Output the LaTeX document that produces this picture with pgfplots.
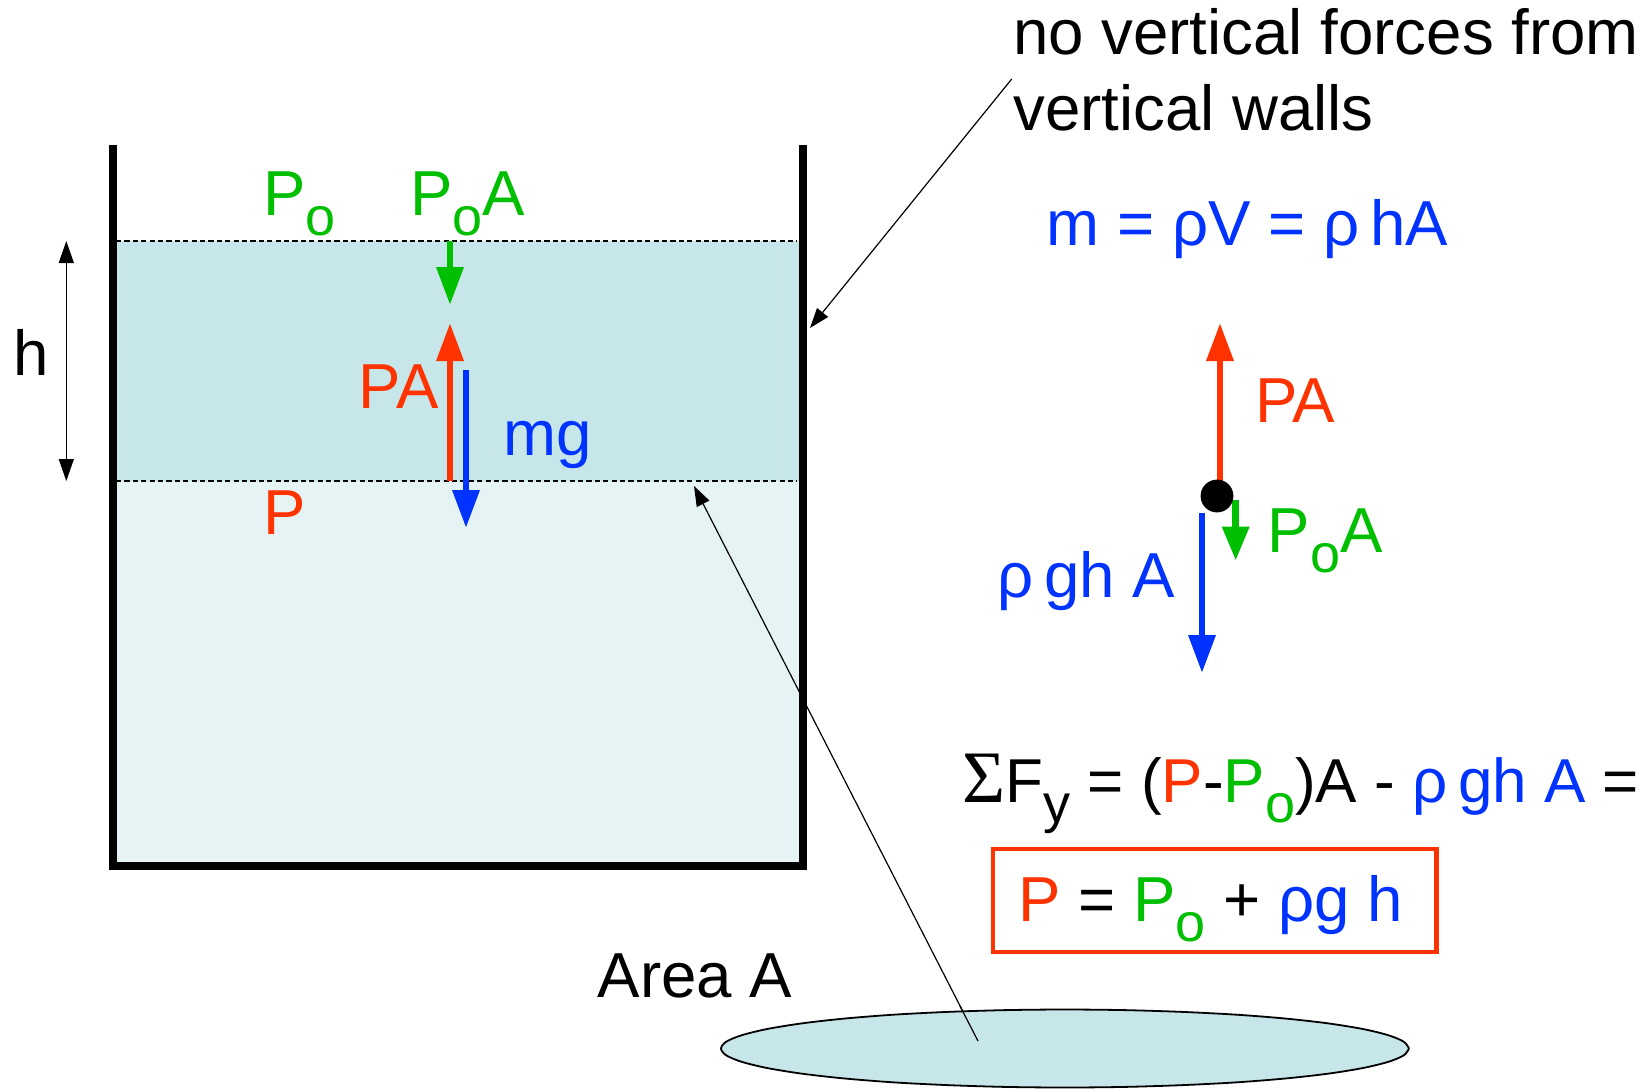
\documentclass[border=0pt]{standalone}
\usepackage{pgfplots}
\pgfplotsset{compat=1.18}
\usepackage{fontspec}
\setmainfont{Liberation Sans}
\newfontfamily\serifsym{Liberation Serif}
\usetikzlibrary{arrows.meta}

\definecolor{fgreen}{HTML}{00BF00}
\definecolor{fred}{HTML}{FF3300}
\definecolor{fblue}{HTML}{0033FF}
\definecolor{waterdark}{HTML}{C6E6E9}
\definecolor{waterlight}{HTML}{E5F3F5}

% subscript as in the slide: large, dropped below the baseline
\newcommand{\sub}[1]{\raisebox{-10pt}{\fontsize{27}{27}\selectfont #1}}

\tikzset{lbl/.style={inner sep=0pt, anchor=base west, font=\fontsize{31.8}{38}\selectfont}}

\begin{document}
\begin{tikzpicture}
\begin{axis}[
    width=824.5pt, height=544.5pt, scale only axis,
    xmin=0, xmax=1649, ymin=0, ymax=1089,
    y dir=reverse,
    axis lines=none,
    clip=false,
    bigarrow/.style={line width=3.3pt, -{Triangle[width=13pt,length=19pt]}},
    thinarrow/.style={line width=0.6pt, black, -{Triangle[width=7pt,length=10pt]}},
]
% background
\addplot[fill=white, draw=none] coordinates {(0,0) (1649,0) (1649,1089) (0,1089)} --cycle;

% water column
\addplot[fill=waterdark, draw=none] coordinates {(115,241) (800,241) (800,481) (115,481)} --cycle;
\addplot[fill=waterlight, draw=none] coordinates {(115,481) (800,481) (800,864) (115,864)} --cycle;
\addplot[black, line width=0.6pt, dash pattern=on 2.6pt off 1.6pt] coordinates {(116,241) (797,241)};
\addplot[black, line width=0.6pt, dash pattern=on 2.6pt off 1.6pt] coordinates {(116,481) (797,481)};

% container walls
\addplot[black, line width=4pt, line join=miter] coordinates {(112.5,145) (112.5,866) (802.5,866) (802.5,145)};

% h
\addplot[black, line width=0.6pt, {Triangle[width=7.5pt,length=11pt]}-{Triangle[width=7.5pt,length=11pt]}] coordinates {(66.3,241) (66.3,481)};
\node[lbl] at (12.6,375.5) {h};

% forces in the container
\addplot[fgreen, bigarrow] coordinates {(450,241) (450,305)};
\addplot[fred, bigarrow] coordinates {(450,481) (450,323)};
\addplot[fblue, bigarrow] coordinates {(466,370) (466,528)};

\node[lbl, text=fgreen] at (263,215.6) {P\sub{o}};
\node[lbl, text=fgreen] at (410,215.6) {P\sub{o}A};
\node[lbl, text=fred] at (358,408) {PA};
\node[lbl, text=fblue] at (502.7,455.4) {mg};
\node[lbl, text=fred] at (263,534.3) {P};

% annotations
\addplot[thinarrow] coordinates {(1011.7,79) (810,328)};
\node[lbl] at (1012.8,54.7) {no vertical forces from};
\node[lbl] at (1012.8,130.4) {vertical walls};

\addplot[thinarrow] coordinates {(978,1041) (694,486)};
\node[lbl] at (597.4,997) {Area A};

% area disc
\addplot[fill=waterdark, draw=black, line width=0.9pt, smooth] coordinates {
(1409,1048.5) (1403.8,1041.7) (1388.3,1035.2) (1362.9,1029) (1328.5,1023.4)
(1286.1,1018.6) (1237,1014.7) (1182.6,1011.9) (1124.7,1010.1) (1065,1009.5)
(1005.3,1010.1) (947.4,1011.9) (893,1014.7) (843.9,1018.6) (801.5,1023.4)
(767.1,1029) (741.7,1035.2) (726.2,1041.7) (721,1048.5) (726.2,1055.3)
(741.7,1061.8) (767.1,1068) (801.5,1073.6) (843.9,1078.4) (893,1082.3)
(947.4,1085.1) (1005.3,1086.9) (1065,1087.5) (1124.7,1086.9) (1182.6,1085.1)
(1237,1082.3) (1286.1,1078.4) (1328.5,1073.6) (1362.9,1068) (1388.3,1061.8)
(1403.8,1055.3) (1409,1048.5)};
\addplot[black, line width=0.6pt] coordinates {(978,1041) (960,1006)};

% free body diagram
\node[lbl, text=fblue] at (1046.4,245) {m = ρV = ρ\,hA};
\addplot[fred, bigarrow] coordinates {(1220,494) (1220,323)};
\addplot[fgreen, line width=3.3pt, -{Triangle[width=13pt,length=17pt]}] coordinates {(1235.7,500) (1235.7,560.5)};
\addplot[fblue, bigarrow] coordinates {(1202,513) (1202,673)};
\addplot[only marks, mark=*, mark size=8pt, black] coordinates {(1217,496)};
\node[lbl, text=fred] at (1254.7,422.8) {PA};
\node[lbl, text=fgreen] at (1267.3,552.1) {P\sub{o}A};
\node[lbl, text=fblue] at (997,597.4) {ρ\,gh A};

% balance of forces
\node[lbl, font=\fontsize{31}{37}\selectfont] at (962.3,802.4) {{\serifsym\fontsize{37}{37}\selectfont Σ}F\sub{y} = (\textcolor{fred}{P}-\textcolor{fgreen}{P\sub{o}})A - \textcolor{fblue}{ρ\,gh A} =};
\addplot[fred, line width=2.2pt] coordinates {(993,848.7) (1436.6,848.7) (1436.6,951.8) (993,951.8)} --cycle;
\node[lbl] at (1018,921.3) {\textcolor{fred}{P} = \textcolor{fgreen}{P\sub{o}} + \textcolor{fblue}{ρg h}};
\end{axis}
\pgfresetboundingbox
\path[use as bounding box] (current axis.south west) rectangle (current axis.north east);
\end{tikzpicture}
\end{document}
